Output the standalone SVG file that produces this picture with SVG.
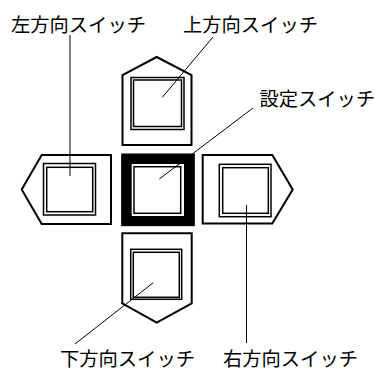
<svg xmlns="http://www.w3.org/2000/svg" width="377" height="371" viewBox="0 0 377 371">
<style>
.frame{fill:#fff;stroke:#000;stroke-width:2;stroke-linejoin:miter}
.sq{fill:none;stroke:#000;stroke-width:1.5}
.lead{stroke:#000;stroke-width:1;fill:none}
text{font-family:"Noto Sans CJK JP","Noto Sans CJK SC",sans-serif;font-size:19.3px;fill:#000}
</style>
<rect width="377" height="371" fill="#fff"/>
<g id="up">
<polygon class="frame" points="122.5,145 122.5,75 156.7,57 191.5,75 191.5,145"/>
<rect class="sq" x="131" y="77.5" width="53" height="52"/>
<rect class="sq" x="133.5" y="80" width="48" height="46.5"/>
</g>
<g id="left">
<polygon class="frame" points="111,155 41.7,155 21.7,189.5 41.7,224 111,224"/>
<rect class="sq" x="43.5" y="163.5" width="52" height="51.5"/>
<rect class="sq" x="46.7" y="167.3" width="46" height="44.4"/>
</g>
<g id="center">
<rect x="121.7" y="154" width="72.6" height="71.7" fill="#000" stroke="#000" stroke-width="1"/>
<rect x="131.7" y="164" width="52.3" height="52" fill="#fff"/>
<rect class="sq" x="134" y="166.7" width="46.7" height="46.6"/>
</g>
<g id="right">
<polygon class="frame" points="202.7,155 272.3,155 292.7,189.5 272.3,223.5 202.7,223.5"/>
<rect class="sq" x="219.3" y="164.3" width="51.7" height="52.4"/>
<rect class="sq" x="222.7" y="167.7" width="45.6" height="45.6"/>
</g>
<g id="down">
<polygon class="frame" points="122.3,233.3 191.7,233.3 191.7,303.3 156.7,322.7 122.3,303.3"/>
<rect class="sq" x="130.7" y="249.3" width="51" height="50"/>
<rect class="sq" x="133.3" y="252.3" width="46" height="45"/>
</g>
<g id="connectors">
<line class="lead" x1="70" y1="176" x2="70" y2="35"/>
<line class="lead" x1="162.3" y1="97.3" x2="213" y2="37"/>
<line class="lead" x1="159.3" y1="179" x2="253" y2="108"/>
<line class="lead" x1="246.5" y1="205" x2="246.5" y2="343"/>
<line class="lead" x1="153.3" y1="282.7" x2="75" y2="344"/>
</g>
<g id="labels">
<text x="11" y="32">左方向スイッチ</text>
<text x="183" y="32">上方向スイッチ</text>
<text x="259.5" y="105.5">設定スイッチ</text>
<text x="60" y="365.5">下方向スイッチ</text>
<text x="223" y="365.5">右方向スイッチ</text>
</g>
</svg>
